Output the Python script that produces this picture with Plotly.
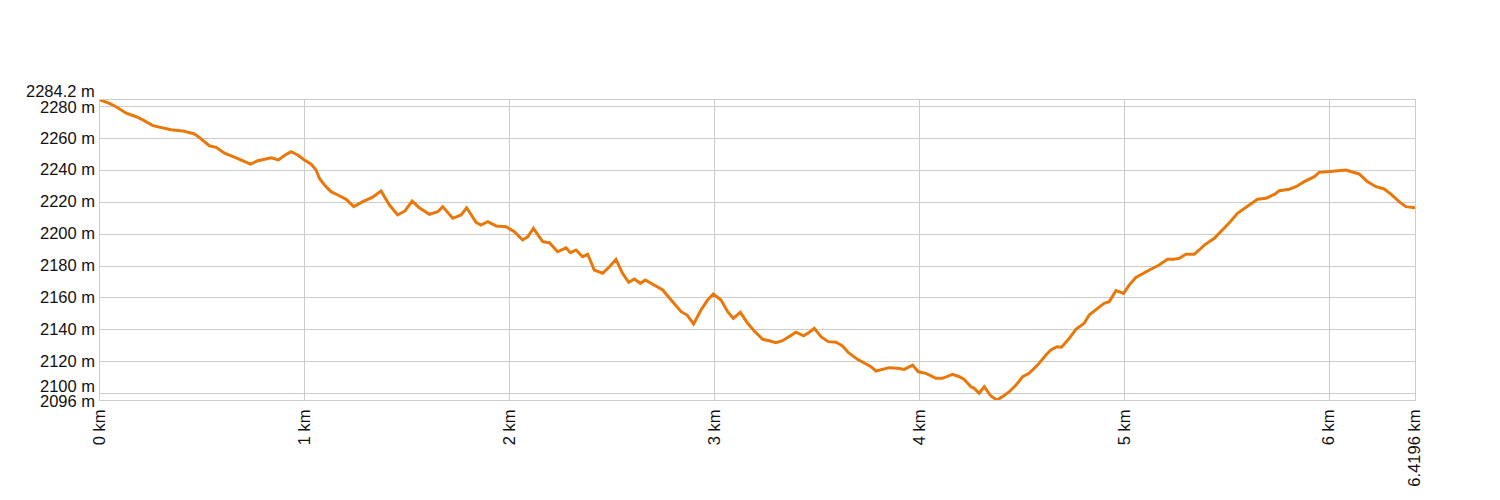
import plotly.graph_objects as go

# distance along route (km)
dist_km = [
    0.0, 0.046, 0.079, 0.128, 0.177, 0.209, 0.258, 0.299, 0.347, 0.404,
    0.461, 0.486, 0.534, 0.567, 0.608, 0.656, 0.697, 0.735, 0.770, 0.836,
    0.871, 0.904, 0.933, 0.965, 0.998, 1.031, 1.055, 1.071, 1.096, 1.128,
    1.161, 1.202, 1.239, 1.283, 1.331, 1.372, 1.413, 1.453, 1.489, 1.524,
    1.559, 1.608, 1.649, 1.673, 1.722, 1.763, 1.790, 1.836, 1.860, 1.893,
    1.934, 1.982, 2.023, 2.063, 2.088, 2.116, 2.161, 2.194, 2.234, 2.275,
    2.296, 2.324, 2.356, 2.381, 2.413, 2.454, 2.487, 2.519, 2.551, 2.581,
    2.609, 2.638, 2.662, 2.706, 2.747, 2.788, 2.837, 2.866, 2.898, 2.934,
    2.966, 2.994, 3.032, 3.064, 3.092, 3.126, 3.162, 3.194, 3.235, 3.267,
    3.300, 3.332, 3.365, 3.398, 3.435, 3.463, 3.487, 3.520, 3.555, 3.593,
    3.625, 3.654, 3.698, 3.731, 3.764, 3.788, 3.820, 3.853, 3.894, 3.926,
    3.967, 3.995, 4.032, 4.081, 4.113, 4.162, 4.195, 4.219, 4.252, 4.268,
    4.292, 4.317, 4.349, 4.379, 4.406, 4.439, 4.472, 4.504, 4.536, 4.577,
    4.618, 4.642, 4.672, 4.694, 4.732, 4.764, 4.805, 4.829, 4.870, 4.902,
    4.927, 4.960, 4.997, 5.024, 5.057, 5.098, 5.130, 5.171, 5.211, 5.244,
    5.269, 5.301, 5.342, 5.366, 5.391, 5.440, 5.472, 5.513, 5.553, 5.602,
    5.651, 5.692, 5.733, 5.757, 5.806, 5.838, 5.879, 5.928, 5.952, 5.992,
    6.041, 6.082, 6.114, 6.147, 6.187, 6.229, 6.269, 6.302, 6.342, 6.375,
    6.4196,
]

# elevation (m)
elev_m = [
    2284.2, 2282.1, 2280.0, 2275.9, 2273.7, 2271.7, 2268.1, 2266.8, 2265.6, 2264.8,
    2262.9, 2260.6, 2255.5, 2254.5, 2250.8, 2248.4, 2246.1, 2244.0, 2246.1, 2248.0,
    2246.6, 2249.7, 2251.8, 2249.7, 2246.6, 2243.9, 2240.3, 2235.1, 2230.9, 2226.7,
    2224.6, 2221.9, 2217.3, 2220.4, 2223.2, 2227.1, 2218.3, 2212.1, 2214.6, 2220.8,
    2216.6, 2212.5, 2214.1, 2217.3, 2210.0, 2212.1, 2216.6, 2207.5, 2205.8, 2207.9,
    2205.2, 2204.7, 2201.6, 2196.4, 2198.4, 2203.7, 2195.3, 2194.7, 2189.0, 2191.5,
    2188.4, 2190.1, 2185.9, 2187.4, 2177.5, 2175.5, 2179.6, 2184.2, 2175.5, 2169.8,
    2171.9, 2169.2, 2171.3, 2168.1, 2165.0, 2158.7, 2151.4, 2149.3, 2143.7, 2152.5,
    2158.7, 2162.5, 2158.7, 2151.4, 2147.2, 2151.0, 2144.1, 2139.3, 2134.1, 2133.2,
    2131.9, 2133.2, 2136.1, 2138.5, 2136.3, 2138.5, 2141.0, 2135.7, 2132.6, 2132.2,
    2129.9, 2125.7, 2121.5, 2119.0, 2116.9, 2114.2, 2115.4, 2116.3, 2115.9, 2115.2,
    2117.9, 2113.7, 2112.7, 2109.6, 2109.6, 2112.1, 2110.6, 2108.9, 2104.3, 2103.3,
    2100.2, 2104.3, 2098.5, 2096.0, 2098.1, 2101.2, 2105.4, 2110.6, 2112.7, 2117.9,
    2124.2, 2127.4, 2129.4, 2129.1, 2134.7, 2140.3, 2144.1, 2149.3, 2153.5, 2156.6,
    2157.7, 2164.6, 2162.9, 2168.1, 2172.9, 2175.5, 2178.0, 2180.7, 2184.3, 2184.3,
    2184.9, 2187.4, 2187.4, 2190.1, 2193.2, 2197.4, 2201.6, 2207.2, 2213.1, 2217.3,
    2221.9, 2222.5, 2225.0, 2227.3, 2228.2, 2229.8, 2233.0, 2236.1, 2238.8, 2239.2,
    2239.8, 2240.3, 2239.0, 2237.8, 2233.0, 2229.8, 2228.4, 2225.2, 2220.4, 2217.3,
    2216.6,
]

x_tick_vals = [0, 1, 2, 3, 4, 5, 6, 6.4196]
x_tick_text = ["0 km", "1 km", "2 km", "3 km", "4 km", "5 km", "6 km", "6.4196 km"]
y_tick_vals = [2096, 2100, 2120, 2140, 2160, 2180, 2200, 2220, 2240, 2260, 2280, 2284.2]
y_tick_text = ["2096 m", "2100 m", "2120 m", "2140 m", "2160 m", "2180 m", "2200 m",
               "2220 m", "2240 m", "2260 m", "2280 m", "2284.2 m"]
# vertical nudges (px) so crowded end labels do not collide, as in the reference
y_label_shift = [-1, 8, 1, 1, 1, 1, 1, 1, 1, 1, 0, 9]

FONT = "Liberation Sans, Arial, sans-serif"
FSIZE = 16.5
grid = "#cccccc"

fig = go.Figure()
fig.add_trace(go.Scatter(
    x=dist_km, y=elev_m, mode="lines",
    line=dict(color="#e8780a", width=3),
    hoverinfo="x+y", showlegend=False,
))

for v, t, s in zip(y_tick_vals, y_tick_text, y_label_shift):
    fig.add_annotation(
        x=0, xref="paper", y=v, yref="y", text=t, showarrow=False,
        xanchor="right", yanchor="middle", xshift=-3, yshift=s,
        font=dict(family=FONT, size=FSIZE, color="#111111"),
    )

fig.update_layout(
    width=1484, height=484,
    margin=dict(l=92, r=77, t=92, b=92),
    paper_bgcolor="white", plot_bgcolor="white",
    font=dict(family=FONT, size=FSIZE, color="#111111"),
    xaxis=dict(
        range=[0, 6.4196], tickmode="array", tickvals=x_tick_vals, ticktext=x_tick_text,
        tickangle=-90, showgrid=True, gridcolor=grid, gridwidth=1,
        showline=True, mirror=True, linecolor=grid, linewidth=1,
        zeroline=False, ticks="", ticklabelstandoff=2, automargin=False,
    ),
    yaxis=dict(
        range=[2096, 2284.2], tickmode="array", tickvals=y_tick_vals,
        showticklabels=False, showgrid=True, gridcolor=grid, gridwidth=1,
        showline=True, mirror=True, linecolor=grid, linewidth=1,
        zeroline=False, ticks="", automargin=False,
    ),
)

fig.write_html("out.html")
